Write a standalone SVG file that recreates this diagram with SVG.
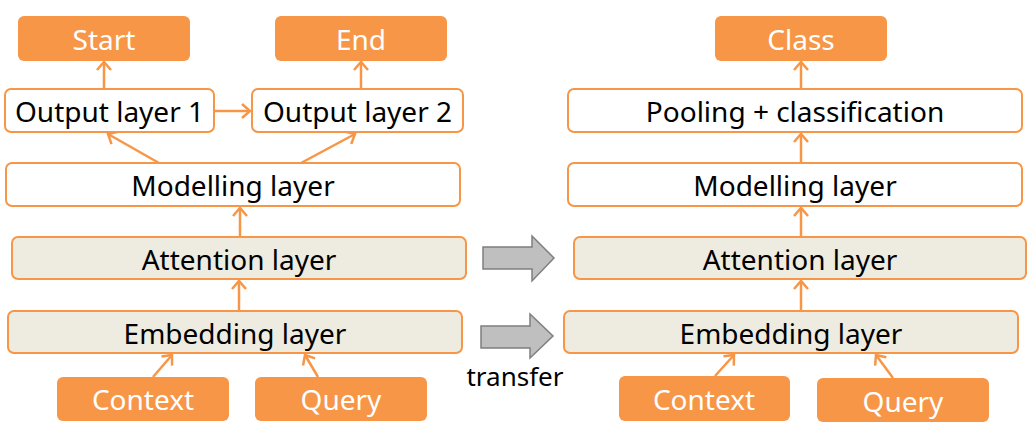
<svg xmlns="http://www.w3.org/2000/svg" width="1027" height="433" viewBox="0 0 1027 433">
<defs>
<style>
.out{fill:#F79646;}
.lay{fill:#FFFFFF;stroke:#F79646;stroke-width:2;}
.beige{fill:#EEECE1;stroke:#F79646;stroke-width:2;}
.t{font-family:"Noto Sans","Open Sans","Liberation Sans",sans-serif;font-size:28px;text-anchor:middle;fill:#000000;}
.w{fill:#FFFFFF;}
.small{font-size:26px;}
.c{fill:none;stroke:#F79646;stroke-width:2.5;marker-end:url(#ah);}
.gray{fill:#BFBFBF;stroke:#7F7F7F;stroke-width:1.5;}
</style>
<marker id="ah" viewBox="-10 -8 12 16" refX="0" refY="0" markerWidth="12" markerHeight="16" markerUnits="userSpaceOnUse" orient="auto">
<path d="M-8,-7 L0,0 L-8,7" fill="none" stroke="#F79646" stroke-width="2.5"/>
</marker>
</defs>
<rect width="1027" height="433" fill="#FFFFFF"/>

<g id="connectors">
<line class="c" x1="104" y1="89" x2="104" y2="62"/>
<line class="c" x1="361" y1="89" x2="361" y2="62"/>
<line class="c" x1="214" y1="111" x2="250" y2="111"/>
<line class="c" x1="159" y1="163" x2="108" y2="134"/>
<line class="c" x1="301" y1="163" x2="355" y2="134"/>
<line class="c" x1="240" y1="237" x2="240" y2="208"/>
<line class="c" x1="239" y1="311" x2="239" y2="281"/>
<line class="c" x1="153" y1="377" x2="172" y2="355"/>
<line class="c" x1="318" y1="377" x2="305" y2="355"/>
<line class="c" x1="801" y1="89" x2="801" y2="62"/>
<line class="c" x1="801" y1="163" x2="801" y2="134"/>
<line class="c" x1="801" y1="237" x2="801" y2="208"/>
<line class="c" x1="801" y1="311" x2="801" y2="281"/>
<line class="c" x1="715" y1="376" x2="734" y2="355"/>
<line class="c" x1="893" y1="378" x2="876" y2="355"/>
</g>

<g id="transfer">
<polygon class="gray" points="483,247 532,247 532,236 554,258 532,281 532,269 483,269"/>
<polygon class="gray" points="481,326 530,326 530,314 553,336 530,358 530,348 481,348"/>
<text class="t small" x="515" y="386">transfer</text>
</g>

<g id="start"><rect class="out" x="18" y="16" width="172" height="45" rx="6"/><text class="t w" x="104" y="50">Start</text></g>
<g id="end"><rect class="out" x="275" y="16" width="172" height="45" rx="6"/><text class="t w" x="361" y="50">End</text></g>
<g id="output1"><rect class="lay" x="5" y="89" width="209" height="43" rx="6"/><text class="t" x="109.5" y="122">Output layer 1</text></g>
<g id="output2"><rect class="lay" x="252" y="89" width="211" height="43" rx="6"/><text class="t" x="357.5" y="122">Output layer 2</text></g>
<g id="modelling-left"><rect class="lay" x="6" y="163" width="454" height="43" rx="6"/><text class="t" x="233" y="196">Modelling layer</text></g>
<g id="attention-left"><rect class="beige" x="12" y="237" width="454" height="42" rx="6"/><text class="t" x="239" y="270">Attention layer</text></g>
<g id="embedding-left"><rect class="beige" x="8" y="311" width="454" height="42" rx="6"/><text class="t" x="235" y="344">Embedding layer</text></g>
<g id="context-left"><rect class="out" x="57" y="377" width="172" height="44" rx="6"/><text class="t w" x="143" y="410">Context</text></g>
<g id="query-left"><rect class="out" x="255" y="377" width="172" height="44" rx="6"/><text class="t w" x="341" y="410">Query</text></g>

<g id="class"><rect class="out" x="715" y="16" width="172" height="45" rx="6"/><text class="t w" x="801" y="50">Class</text></g>
<g id="pooling"><rect class="lay" x="568" y="89" width="454" height="43" rx="6"/><text class="t" x="795" y="122">Pooling + classification</text></g>
<g id="modelling-right"><rect class="lay" x="568" y="163" width="454" height="43" rx="6"/><text class="t" x="795" y="196">Modelling layer</text></g>
<g id="attention-right"><rect class="beige" x="574" y="237" width="452" height="42" rx="6"/><text class="t" x="800" y="270">Attention layer</text></g>
<g id="embedding-right"><rect class="beige" x="564" y="311" width="454" height="42" rx="6"/><text class="t" x="791" y="344">Embedding layer</text></g>
<g id="context-right"><rect class="out" x="619" y="376" width="171" height="45" rx="6"/><text class="t w" x="704" y="410">Context</text></g>
<g id="query-right"><rect class="out" x="817" y="378" width="172" height="44" rx="6"/><text class="t w" x="903" y="412">Query</text></g>
</svg>
